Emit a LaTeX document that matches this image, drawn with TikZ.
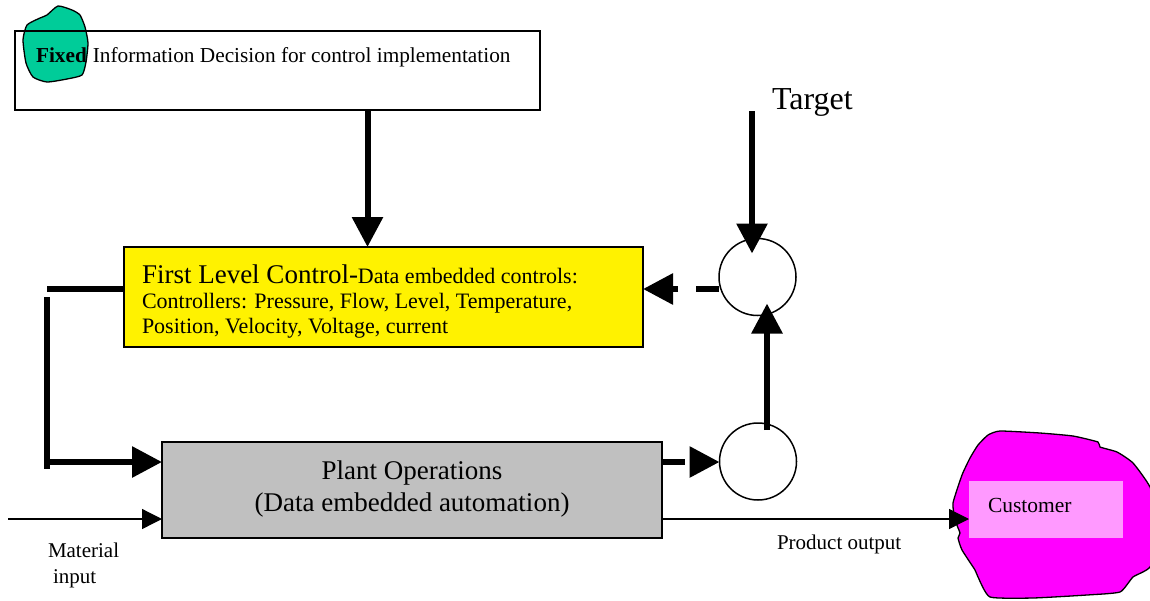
\documentclass[tikz,border=0pt]{standalone}
\usepackage{fontspec}
\setmainfont{Liberation Serif}
\usetikzlibrary{arrows.meta,calc}
\definecolor{blobgreen}{RGB}{0,204,153}
\definecolor{plantgray}{RGB}{192,192,192}
\definecolor{custmag}{RGB}{255,0,255}
\definecolor{custpink}{RGB}{255,153,255}
\begin{document}
\begin{tikzpicture}[x=1pt,y=-1pt,
  thickline/.style={line width=6pt},
  bigarrow/.style={line width=6pt,-{Triangle[length=30pt,width=30pt]}},
  thinarrow/.style={line width=1.3pt,-{Triangle[length=20pt,width=20pt]}},
  dashline/.style={dash pattern=on 23pt off 18pt},
  box/.style={draw,line width=1.5pt,inner sep=0pt,outer sep=0pt},
  ring/.style={circle,draw,line width=1.5pt,minimum size=77pt,inner sep=0pt,outer sep=0pt},
  txt/.style={inner sep=0pt,outer sep=0pt},
]
\useasboundingbox (0,0) rectangle (1150,600);
\clip (0,0) rectangle (1150,600);

% green "Fixed" blob
\draw[line width=1.3pt,fill=blobgreen] plot[smooth cycle,tension=0.35] coordinates
 {(58,6) (72,10) (80,15) (85,27) (88,43) (86,62) (82,75) (67,79) (47,82) (33,77) (26,63) (23,40) (27,25) (40,18) (47,15)};

% top box
\node[box,minimum width=525pt,minimum height=79pt] (topbox) at (277.5,70.5) {};
\node[txt,anchor=base west] (toptext) at (36,62)
 {\fontsize{21.3}{25}\selectfont\textbf{Fixed}\hspace{6pt}Information Decision for control implementation};

% first level control
\node[box,fill=yellow,minimum width=519pt,minimum height=100pt] (ctrl) at (383.5,297) {};
\node[txt,anchor=base west] (ctrlA) at (142,283)
 {{\fontsize{27}{31}\selectfont First Level Control-}{\fontsize{22}{26}\selectfont Data embedded controls:}};
\node[txt,anchor=base west] (ctrlB) at (142,308)
 {\fontsize{22}{26}\selectfont Controllers: Pressure, Flow, Level, Temperature,};
\node[txt,anchor=base west] (ctrlC) at (142,333)
 {\fontsize{22}{26}\selectfont Position, Velocity, Voltage, current};

% plant
\node[box,fill=plantgray,minimum width=500pt,minimum height=96pt] (plant) at (412,490) {};
\node[txt,anchor=base] (plantA) at (412,479) {\fontsize{27}{31}\selectfont Plant Operations};
\node[txt,anchor=base] (plantB) at (412,511) {\fontsize{27}{31}\selectfont (Data embedded automation)};

% summing circles
\node[ring] (c1) at (757.5,277) {};
\node[ring] (c2) at (758,461.5) {};

% target
\node[txt,anchor=base west] (target) at (772,109) {\fontsize{32}{37}\selectfont Target};

% customer
\draw[line width=1.3pt,fill=custmag] plot[smooth cycle,tension=0.3] coordinates
 {(1000,431) (1040,433) (1073,436) (1098,442) (1100,447) (1117,452) (1133,463) (1150,487) (1165,530) (1150,567) (1133,577) (1120,592) (1087,595) (1033,598) (990,597) (978,577) (975,570) (962,550) (958,538) (960,533) (955,520) (953,503) (962,475) (970,458) (978,445) (988,435)};
\node[fill=custpink,minimum width=154pt,minimum height=57pt,inner sep=0pt,outer sep=0pt] (cust) at (1046,509.5) {};
\node[txt,anchor=base west] (custtext) at (988,512) {\fontsize{21.5}{25}\selectfont Customer};

% labels
\node[txt,anchor=base west] (matA) at (48,557) {\fontsize{21}{25}\selectfont Material};
\node[txt,anchor=base west] (matB) at (53,583) {\fontsize{21}{25}\selectfont input};
\node[txt,anchor=base west] (prod) at (777,549) {\fontsize{21}{25}\selectfont Product output};

% helper coordinates
\coordinate (ax) at (367.5,0);
\coordinate (tx) at (752,111);
\coordinate (ux) at (767,0);
\coordinate (dy) at (0,289);
\coordinate (py) at (0,462);
\coordinate (lx) at (47,0);
\coordinate (ltop) at (47,297);
\coordinate (lbot) at (47,469);
\coordinate (min) at (8,519);
\coordinate (c1top) at ($(c1.north)+(0,15)$);
\coordinate (c1bot) at ($(c1.south)+(0,-12)$);
\coordinate (c2top) at ($(c2.north)+(0,7)$);

% connectors
\draw[bigarrow] (topbox.south -| ax) -- (ctrl.north -| ax);
\draw[bigarrow] (tx) -- (c1top -| tx);
\draw[bigarrow] (c2top -| ux) -- (c1bot -| ux);
\draw[bigarrow,dashline] (c1.west |- dy) -- (ctrl.east |- dy);
\draw[bigarrow,dashline] (plant.east |- py) -- (c2.west |- py);
\draw[thickline] (ctrl.west |- dy) -- (lx |- dy);
\draw[thickline] (ltop) -- (lbot);
\draw[bigarrow] (lx |- py) -- (plant.west |- py);
\draw[thinarrow] (min) -- (plant.west |- min);
\draw[thinarrow] (plant.east |- min) -- (cust.west |- min);
\end{tikzpicture}
\end{document}
